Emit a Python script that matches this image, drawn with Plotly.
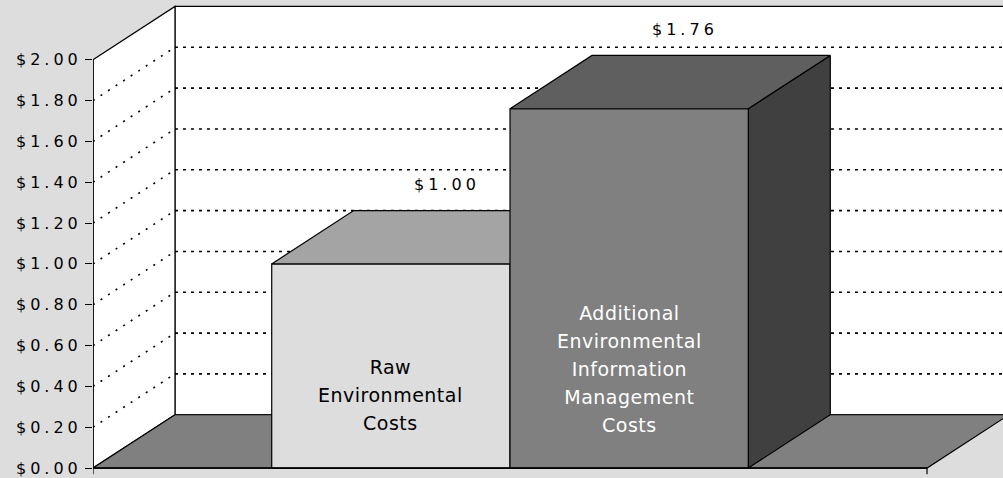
import plotly.graph_objects as go

# ---------------- data ----------------
series_names = ["Raw Environmental Costs",
                "Additional Environmental Information Management Costs"]
series_values = [1.00, 1.76]
value_labels = ["$1.00", "$1.76"]
tick_values = [0.0, 0.2, 0.4, 0.6, 0.8, 1.0, 1.2, 1.4, 1.6, 1.8, 2.0]
tick_labels = ["$0.00", "$0.20", "$0.40", "$0.60", "$0.80", "$1.00",
               "$1.20", "$1.40", "$1.60", "$1.80", "$2.00"]

# ---------------- layout / style constants ----------------
W, H = 1003, 478
X_RANGE = [0.0, 1.0911]
Y_RANGE = [-0.03902, 2.29268]
GAP_WIDTH = 1.5          # Excel gap width (150%)
DX, DY = 0.0983, 0.2610  # 3-D depth offset in axis units
Y_TOP = 2.0
BG = "#DDDDDD"
front_colors = ["#DDDDDD", "#808080"]
top_colors = ["#A4A4A4", "#5F5F5F"]
side_colors = ["#707070", "#404040"]
text_colors = ["#000000", "#FFFFFF"]
inner_label_y = [0.356, 0.483]
FONT = "DejaVu Sans"


def spaced(t, ls=4):
    return f'<span style="letter-spacing:{ls}px">{t}</span>'


fig = go.Figure()
shapes = []

# back wall
shapes.append(dict(type="rect", xref="x", yref="y", x0=DX, x1=X_RANGE[1] + 0.2,
                   y0=DY, y1=Y_TOP + DY, fillcolor="white",
                   line=dict(color="black", width=1.2), layer="below"))
# left wall
shapes.append(dict(type="path", xref="x", yref="y",
                   path=f"M0,0 L{DX},{DY} L{DX},{Y_TOP + DY} L0,{Y_TOP} Z",
                   fillcolor="white", line=dict(color="black", width=1.2),
                   layer="below"))
# floor
shapes.append(dict(type="path", xref="x", yref="y",
                   path=f"M0,0 L1,0 L{1 + DX},{DY} L{DX},{DY} Z",
                   fillcolor="#808080", line=dict(color="black", width=1.2),
                   layer="below"))
# gridlines
for v in tick_values[1:-1]:
    shapes.append(dict(type="line", xref="x", yref="y", x0=DX, x1=X_RANGE[1] + 0.2,
                       y0=v + DY, y1=v + DY,
                       line=dict(color="black", width=1.6, dash="3px,5px"),
                       layer="below"))
    shapes.append(dict(type="line", xref="x", yref="y", x0=0, x1=DX,
                       y0=v, y1=v + DY,
                       line=dict(color="black", width=1.6, dash="2px,7px"),
                       layer="below"))
# value axis line and category axis line / ticks
shapes.append(dict(type="line", xref="x", yref="y", x0=0, x1=0, y0=0, y1=Y_TOP,
                   line=dict(color="black", width=1.5), layer="above"))
shapes.append(dict(type="line", xref="x", yref="y", x0=0, x1=1, y0=0, y1=0,
                   line=dict(color="black", width=1.5), layer="above"))
for xt in (0, 1):
    shapes.append(dict(type="line", xref="x", yref="y", x0=xt, x1=xt, y0=0,
                       y1=-0.03, line=dict(color="black", width=1.2),
                       layer="above"))

# bars (3-D faces, painter's order left to right)
n = len(series_values)
bw = 1.0 / (n + GAP_WIDTH)
left0 = GAP_WIDTH * bw / 2
annotations = []
for i, (name, v) in enumerate(zip(series_names, series_values)):
    l = left0 + i * bw
    r = l + bw
    faces = [
        ([r, r + DX, r + DX, r, r], [0, DY, v + DY, v, 0], side_colors[i]),
        ([l, r, r, l, l], [0, 0, v, v, 0], front_colors[i]),
        ([l, r, r + DX, l + DX, l], [v, v, v + DY, v + DY, v], top_colors[i]),
    ]
    for xs, ys, c in faces:
        fig.add_trace(go.Scatter(x=xs, y=ys, mode="lines", fill="toself",
                                 fillcolor=c, line=dict(color="black", width=1.2),
                                 hoverinfo="skip", showlegend=False, name=name))
    lines = name.split(" ")
    txt = "<br>".join(
        f'<span style="font-size:19px;letter-spacing:0.5px">{w}</span>' for w in lines)
    annotations.append(dict(x=(l + r) / 2, y=inner_label_y[i], xref="x", yref="y",
                            text=txt, showarrow=False,
                            font=dict(family=FONT, size=21.5, color=text_colors[i])))
    annotations.append(dict(x=(l + r) / 2, y=v + DY, xref="x", yref="y",
                            text=spaced(value_labels[i]), showarrow=False,
                            xshift=56, yshift=26, yanchor="middle",
                            font=dict(family=FONT, size=16, color="black")))

fig.update_layout(
    width=W, height=H,
    margin=dict(l=93, r=0, t=0, b=0),
    paper_bgcolor=BG, plot_bgcolor=BG,
    shapes=shapes, annotations=annotations,
    showlegend=False,
    xaxis=dict(range=X_RANGE, showgrid=False, zeroline=False, showline=False,
               showticklabels=False, ticks="", fixedrange=True),
    yaxis=dict(range=Y_RANGE, showgrid=False, zeroline=False, showline=False,
               tickmode="array", tickvals=tick_values,
               ticktext=[spaced(t) for t in tick_labels],
               ticks="outside", ticklen=7, tickcolor="black", tickwidth=1.2,
               tickfont=dict(family=FONT, size=16, color="black"),
               ticklabeloverflow="allow",
               fixedrange=True),
)

fig.write_html("out.html",
               config={"displayModeBar": False},
               post_script="document.body.style.margin='0';"
                           "document.body.style.background='" + BG + "';")
